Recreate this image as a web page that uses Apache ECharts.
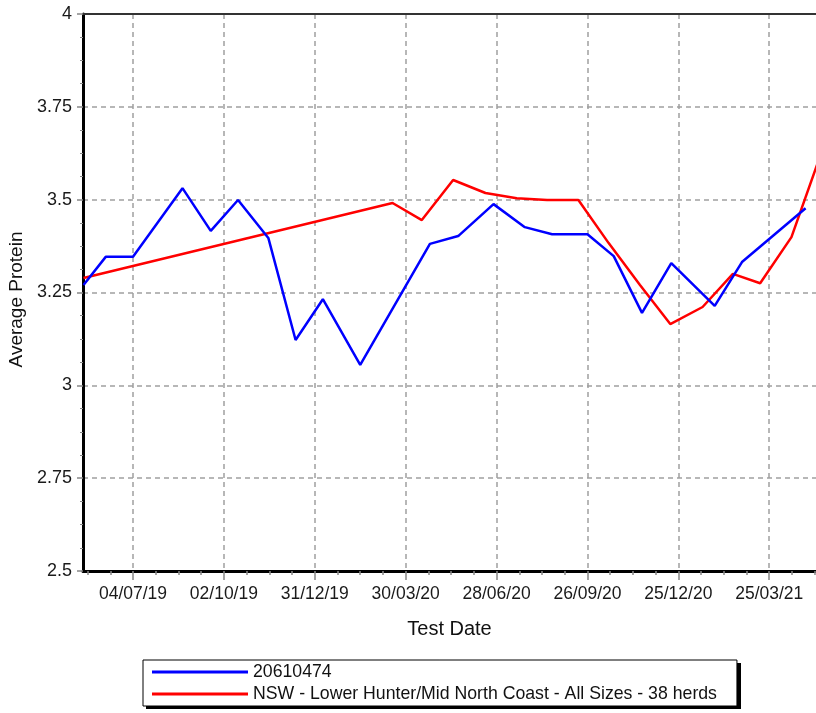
<!DOCTYPE html>
<html><head><meta charset="utf-8">
<script src="https://cdn.jsdelivr.net/npm/echarts@6/dist/echarts.min.js"></script>
<style>html,body{margin:0;padding:0;background:#fff}#c{width:816px;height:713px}</style>
</head><body><div id="c"></div>
<script>
const blueName = '20610474';
const redName = 'NSW - Lower Hunter/Mid North Coast - All Sizes - 38 herds';

const blueDates = ['2019-05-16','2019-06-07','2019-07-04','2019-08-22','2019-09-19','2019-10-16','2019-11-15','2019-12-12','2020-01-08','2020-02-14','2020-04-23','2020-05-21','2020-06-25','2020-07-26','2020-08-22','2020-09-26','2020-10-22','2020-11-19','2020-12-18','2021-01-30','2021-02-26','2021-04-30'];
const blueValues = [3.270,3.346,3.346,3.531,3.416,3.499,3.397,3.122,3.232,3.055,3.381,3.402,3.488,3.426,3.407,3.407,3.348,3.195,3.329,3.214,3.332,3.477];

const redDates = ['2019-05-16','2020-03-17','2020-04-15','2020-05-16','2020-06-17','2020-07-18','2020-08-17','2020-09-17','2020-10-17','2020-11-17','2020-12-17','2021-01-18','2021-02-17','2021-03-16','2021-04-16','2021-05-16'];
const redValues = [3.289,3.491,3.445,3.553,3.518,3.504,3.499,3.499,3.383,3.270,3.165,3.211,3.300,3.275,3.399,3.630];

const tickDates = ['2019-07-04','2019-10-02','2019-12-31','2020-03-30','2020-06-28','2020-09-26','2020-12-25','2021-03-25'];

const BASE = Date.UTC(2019, 6, 4);
const DAY = 86400000;
function dayOf(s) { return (Date.parse(s + 'T00:00:00Z') - BASE) / DAY; }
function fmt(v) {
  const d = new Date(BASE + Math.round(v) * DAY);
  const p = n => String(n).padStart(2, '0');
  return p(d.getUTCDate()) + '/' + p(d.getUTCMonth() + 1) + '/' + String(d.getUTCFullYear()).slice(2);
}
const X_MIN = -49.5, X_MAX = 676.3;
const majorTicks = tickDates.map(dayOf);
const minorTicks = [];
for (let i = 0; i < majorTicks.length; i++) {
  for (let k = -3; k <= 4; k++) {
    const v = majorTicks[i] + k * 22.5;
    if (k !== 0 && (k > 0 || i === 0) && v > X_MIN && v < X_MAX) minorTicks.push(v);
  }
}
const FONT = '"Liberation Sans", Arial, sans-serif';

const chart = echarts.init(document.getElementById('c'));
chart.setOption({
  animation: false,
  grid: { left: 83, top: 14, bottom: 142, right: 0, containLabel: false, outerBoundsMode: 'none' },
  graphic: [
    { type: 'rect', z: 0, shape: { x: 146, y: 663, width: 595, height: 46 }, style: { fill: '#000' } }
  ],
  legend: {
    data: [blueName, redName], orient: 'vertical', left: 143, top: 660, z: 10,
    icon: 'rect', itemWidth: 96, itemHeight: 3, itemGap: 4, selectedMode: false,
    textStyle: { fontSize: 17.7, color: '#111', fontFamily: FONT },
    backgroundColor: '#fff', borderColor: '#000', borderWidth: 1, padding: [3, 20, 3, 9]
  },
  xAxis: [
    {
      type: 'value', min: X_MIN, max: X_MAX, position: 'bottom',
      name: 'Test Date', nameLocation: 'middle', nameGap: 48,
      nameTextStyle: { fontSize: 20, color: '#111', fontFamily: FONT },
      axisLine: { show: true, onZero: false, lineStyle: { color: '#000', width: 3 } },
      axisTick: { show: true, customValues: majorTicks, length: 9, lineStyle: { color: '#888', width: 1.5 } },
      axisLabel: { customValues: majorTicks, formatter: fmt, fontSize: 17.5, color: '#1a1a1a', margin: 14, fontFamily: FONT },
      splitLine: { show: true, lineStyle: { color: '#a0a0a0', width: 1.5, type: [5, 4] } }
    },
    {
      type: 'value', min: X_MIN, max: X_MAX, position: 'bottom',
      axisLine: { show: false },
      axisTick: { show: true, customValues: minorTicks, length: 4, lineStyle: { color: '#888', width: 1.5 } },
      axisLabel: { show: false },
      splitLine: { show: false }
    },
    {
      type: 'value', min: X_MIN, max: X_MAX, position: 'top',
      axisLine: { show: true, onZero: false, lineStyle: { color: '#333', width: 2 } },
      axisTick: { show: false }, axisLabel: { show: false }, splitLine: { show: false }
    }
  ],
  yAxis: {
    type: 'value', min: 2.5, max: 4, interval: 0.25,
    name: 'Average Protein', nameLocation: 'middle', nameGap: 53, nameRotate: 90,
    nameTextStyle: { fontSize: 19, color: '#111', fontFamily: FONT, padding: [0, 14, 0, 0] },
    axisLine: { show: true, onZero: false, lineStyle: { color: '#000', width: 3 } },
    axisTick: { show: true, length: 6, lineStyle: { color: '#888', width: 1.5 } },
    minorTick: { show: true, splitNumber: 4, length: 3, lineStyle: { color: '#888', width: 1 } },
    axisLabel: { fontSize: 18, color: '#1a1a1a', margin: 11, fontFamily: FONT },
    splitLine: { show: true, lineStyle: { color: '#a0a0a0', width: 1.5, type: [5, 4] } }
  },
  series: [
    { name: redName, type: 'line', xAxisIndex: 0, data: redDates.map((d, i) => [dayOf(d), redValues[i]]),
      showSymbol: false, symbol: 'none', lineStyle: { color: '#ff0000', width: 2.5 }, itemStyle: { color: '#ff0000' } },
    { name: blueName, type: 'line', xAxisIndex: 0, data: blueDates.map((d, i) => [dayOf(d), blueValues[i]]),
      showSymbol: false, symbol: 'none', lineStyle: { color: '#0000ff', width: 2.5 }, itemStyle: { color: '#0000ff' } }
  ]
});
</script></body></html>
